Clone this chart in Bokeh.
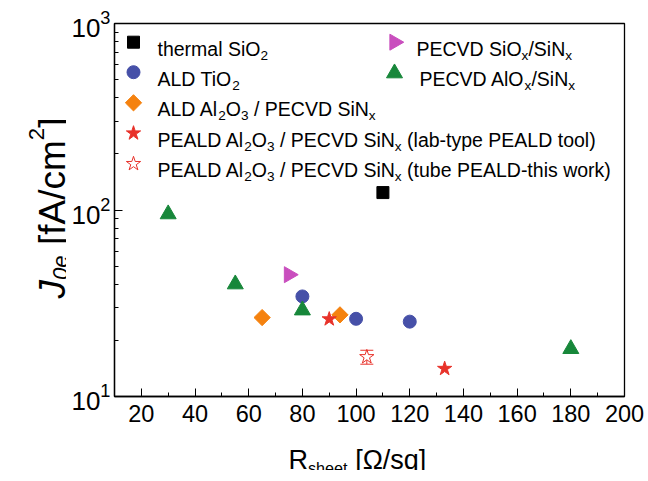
import math

from bokeh.embed import file_html
from bokeh.layouts import column, row
from bokeh.models import FixedTicker, Label, LinearScale, LogTickFormatter, Range1d
from bokeh.plotting import figure
from bokeh.resources import INLINE

# ---- data: sheet resistance [Ohm/sq] and J0e [fA/cm^2] per passivation stack ----
thermal_sio2_r = [110]
thermal_sio2_j = [124]

ald_tio2_r = [80, 100, 120]
ald_tio2_j = [34.4, 26.1, 25.2]

ald_al2o3_r = [65, 94]
ald_al2o3_j = [26.5, 27.4]

peald_lab_r = [90, 133]
peald_lab_j = [26.0, 14.1]

peald_tube_r = [104]
peald_tube_j = [16.3]
peald_tube_err = [1.4]

pecvd_sio_r = [75]
pecvd_sio_j = [45]

pecvd_alo_r = [30, 55, 80, 180]
pecvd_alo_j = [95, 40, 29, 18]

x_major_ticks = [20, 40, 60, 80, 100, 120, 140, 160, 180, 200]
x_minor_ticks = [10, 30, 50, 70, 90, 110, 130, 150, 170, 190]
y_major_ticks = [10, 100, 1000]

# ---- layout (pixels) ----
W, H = 648, 481
YT_W = 66            # strip left of the plot holding the y title
XT_H = 39            # strip below the plot holding the x title
MAIN_W, MAIN_H = W - YT_W, 431
B_LEFT, B_RIGHT, B_TOP, B_BOTTOM = 48, 24, 23, 35
FRAME_LEFT = YT_W + B_LEFT                 # canvas x of plot frame left edge
FRAME_BOTTOM = MAIN_H - B_BOTTOM           # canvas y of frame bottom
FW = MAIN_W - B_LEFT - B_RIGHT
FH = MAIN_H - B_TOP - B_BOTTOM
FONT = "Liberation Sans"

BLACK = "#000000"
BLUE = "#4650A8"
ORANGE = "#F5820F"
RED = "#E8322A"
PINK = "#C94EBE"
GREEN = "#17873A"

p = figure(
    width=MAIN_W, height=MAIN_H,
    x_range=Range1d(10, 200), y_range=Range1d(10, 1000), y_axis_type="log",
    output_backend="svg", toolbar_location=None,
    min_border_left=B_LEFT, min_border_right=B_RIGHT,
    min_border_top=B_TOP, min_border_bottom=B_BOTTOM,
)
p.background_fill_color = "white"
p.border_fill_color = "white"
p.outline_line_color = BLACK
p.outline_line_width = 1.3
p.grid.visible = False

# frame-pixel coordinate system for the legend
p.extra_x_ranges = {"px": Range1d(0, FW)}
p.extra_y_ranges = {"px": Range1d(0, FH)}
p.extra_x_scales = {"px": LinearScale()}
p.extra_y_scales = {"px": LinearScale()}

for ax in (p.xaxis[0], p.yaxis[0]):
    ax.axis_line_color = BLACK
    ax.axis_line_width = 1.3
    ax.major_tick_line_color = BLACK
    ax.minor_tick_line_color = BLACK
    ax.major_tick_in = 8
    ax.major_tick_out = 0
    ax.minor_tick_in = 4
    ax.minor_tick_out = 0
    ax.major_label_text_font = FONT
    ax.major_label_text_color = BLACK

p.xaxis.ticker = FixedTicker(ticks=x_major_ticks, minor_ticks=x_minor_ticks)
p.xaxis.major_label_standoff = 8
p.xaxis.major_label_text_font_size = "23.5px"

y_minor = [m * 10 ** k for k in (1, 2) for m in range(2, 10)]
p.yaxis.ticker = FixedTicker(ticks=y_major_ticks, minor_ticks=y_minor)
p.yaxis.formatter = LogTickFormatter()
p.yaxis.major_label_standoff = 4
p.yaxis.major_label_text_font_size = "26px"

# ---- data marks ----
p.scatter(thermal_sio2_r, thermal_sio2_j, marker="square", size=12,
          fill_color=BLACK, line_color=BLACK)
p.scatter(ald_tio2_r, ald_tio2_j, marker="circle", size=13,
          fill_color=BLUE, line_color=BLUE)
p.scatter(ald_al2o3_r, ald_al2o3_j, marker="square", angle=math.pi / 4, size=11.5,
          fill_color=ORANGE, line_color=ORANGE)
p.scatter(peald_lab_r, peald_lab_j, marker="star", size=15,
          fill_color=RED, line_color=RED)
p.scatter(pecvd_sio_r, pecvd_sio_j, marker="triangle", angle=-math.pi / 2, size=16,
          fill_color=PINK, line_color=PINK)
p.scatter(pecvd_alo_r, pecvd_alo_j, marker="triangle", size=16,
          fill_color=GREEN, line_color=GREEN)

lo = [j - e for j, e in zip(peald_tube_j, peald_tube_err)]
hi = [j + e for j, e in zip(peald_tube_j, peald_tube_err)]
p.segment(peald_tube_r, lo, peald_tube_r, hi, line_color=RED, line_width=1)
p.scatter(peald_tube_r, peald_tube_j, marker="star", size=15,
          fill_color="white", line_color=RED, line_width=1)
p.scatter(peald_tube_r + peald_tube_r, lo + hi, marker="dash", size=13,
          line_color=RED, line_width=1)


def blank_strip(width, height):
    """A figure with no axes whose frame is the whole canvas, for title text."""
    f = figure(width=width, height=height, x_range=Range1d(0, width),
               y_range=Range1d(0, height), output_backend="svg",
               toolbar_location=None, min_border=0,
               x_axis_location=None, y_axis_location=None)
    f.grid.visible = False
    f.outline_line_color = None
    f.background_fill_color = "white"
    f.border_fill_color = "white"
    return f


p_ytitle = blank_strip(YT_W, MAIN_H)
p_xtitle = blank_strip(W, XT_H)

# ---- rich text helpers (Arial/Liberation Sans advance widths, 1/1000 em) ----
ADV = {" ": 278, "(": 333, ")": 333, "-": 333, "/": 278, "[": 278, "]": 278,
       "\u03a9": 768}
for c in "0123456789":
    ADV[c] = 556
ADV.update(dict(zip("ABCDEFGHIJKLMNOPQRSTUVWXYZ",
                    [667, 667, 722, 722, 667, 611, 778, 722, 278, 500, 667, 556, 833,
                     722, 778, 667, 778, 722, 667, 611, 722, 667, 944, 667, 667, 611])))
ADV.update(dict(zip("abcdefghijklmnopqrstuvwxyz",
                    [556, 556, 500, 556, 556, 278, 556, 556, 222, 222, 500, 222, 833,
                     556, 556, 556, 556, 333, 500, 278, 556, 500, 722, 500, 500, 500])))


def text_width(s, size):
    return sum(ADV.get(c, 556) for c in s) * size / 1000.0


def rich(fig, parts, fx, fy, size, angle=0.0, sub_scale=0.7,
         sub_drop=0.33, sup_rise=0.42):
    """Write runs of text starting at frame point (fx, fy) on the baseline.

    (fx, fy) are pixels from the frame's bottom-left corner, y pointing up.
    parts: list of (text, kind, style) with kind in "n", "sub", "sup".
    """
    ux, uy = math.cos(angle), math.sin(angle)
    vx, vy = -math.sin(angle), math.cos(angle)
    adv = 0.0
    for text, kind, style in parts:
        s = size if kind == "n" else size * sub_scale
        stripped = text.lstrip(" ")
        adv += text_width(text[: len(text) - len(stripped)], s)
        off = 0.0
        if kind == "sub":
            off = -sub_drop * size
        elif kind == "sup":
            off = sup_rise * size
        x = fx + adv * ux + off * vx
        y = fy + adv * uy + off * vy
        fig.add_layout(Label(x=x, y=y, x_units="screen", y_units="screen",
                             text=stripped, angle=angle, text_font=FONT,
                             text_font_size=f"{s:.1f}px", text_font_style=style,
                             text_color=BLACK, text_align="left",
                             text_baseline="alphabetic"))
        adv += text_width(stripped, s)


def main_xy(cx, cy):
    """Canvas position -> pixels from the main frame's bottom-left corner."""
    return cx - FRAME_LEFT, FRAME_BOTTOM - cy


# ---- legend ----
LEG_SIZE = 19.5
rows_y = [41.7, 71.7, 102.3, 132.7, 163.3]


def legend_marker(cx, cy, **kw):
    x, y = main_xy(cx, cy)
    p.scatter([x], [y], x_range_name="px", y_range_name="px", **kw)


legend_marker(133, rows_y[0], marker="square", size=12, fill_color=BLACK, line_color=BLACK)
legend_marker(133, rows_y[1], marker="circle", size=13, fill_color=BLUE, line_color=BLUE)
legend_marker(133, rows_y[2], marker="square", angle=math.pi / 4, size=11.5,
              fill_color=ORANGE, line_color=ORANGE)
legend_marker(133, rows_y[3], marker="star", size=15, fill_color=RED, line_color=RED)
legend_marker(133, rows_y[4], marker="star", size=15, fill_color="white", line_color=RED)
legend_marker(394, rows_y[0], marker="triangle", angle=-math.pi / 2, size=16,
              fill_color=PINK, line_color=PINK)
legend_marker(394, rows_y[1] + 1, marker="triangle", size=16,
              fill_color=GREEN, line_color=GREEN)

N, SUB, SUP = "n", "sub", "sup"
TX = 157
BASE = 6.6
rich(p, [("thermal SiO", N, "normal"), ("2", SUB, "normal")],
     *main_xy(TX, rows_y[0] + BASE), LEG_SIZE)
rich(p, [("ALD TiO", N, "normal"), ("2", SUB, "normal")],
     *main_xy(TX, rows_y[1] + BASE), LEG_SIZE)
rich(p, [("ALD Al", N, "normal"), ("2", SUB, "normal"), ("O", N, "normal"),
         ("3", SUB, "normal"), (" / PECVD SiN", N, "normal"), ("x", SUB, "normal")],
     *main_xy(TX, rows_y[2] + BASE), LEG_SIZE)
rich(p, [("PEALD Al", N, "normal"), ("2", SUB, "normal"), ("O", N, "normal"),
         ("3", SUB, "normal"), (" / PECVD SiN", N, "normal"), ("x", SUB, "normal"),
         (" (lab-type PEALD tool)", N, "normal")],
     *main_xy(TX, rows_y[3] + BASE), LEG_SIZE)
rich(p, [("PEALD Al", N, "normal"), ("2", SUB, "normal"), ("O", N, "normal"),
         ("3", SUB, "normal"), (" / PECVD SiN", N, "normal"), ("x", SUB, "normal"),
         (" (tube PEALD-this work)", N, "normal")],
     *main_xy(TX, rows_y[4] + BASE), LEG_SIZE)
rich(p, [("PECVD SiO", N, "normal"), ("x", SUB, "normal"), ("/SiN", N, "normal"),
         ("x", SUB, "normal")], *main_xy(416, rows_y[0] + BASE), LEG_SIZE)
rich(p, [("PECVD AlO", N, "normal"), ("x", SUB, "normal"), ("/SiN", N, "normal"),
         ("x", SUB, "normal")], *main_xy(419, rows_y[1] + BASE), LEG_SIZE)

# ---- axis titles ----
rich(p_xtitle,
     [("R", N, "normal"), ("sheet", SUB, "normal"), (" [\u03a9/sq]", N, "normal")],
     288, 10.5, 27, sub_scale=0.6, sub_drop=0.29)
rich(p_ytitle,
     [("J", N, "italic"), ("0e", SUB, "italic"), (" [fA/cm", N, "normal"),
      ("2", SUP, "normal"), ("]", N, "normal")],
     52, MAIN_H - 333, 37, angle=math.pi / 2, sub_scale=0.6, sub_drop=0.22,
     sup_rise=0.42)

layout = column(row(p_ytitle, p, spacing=0), p_xtitle, spacing=0)
open("out.html", "w").write(file_html(layout, INLINE))
